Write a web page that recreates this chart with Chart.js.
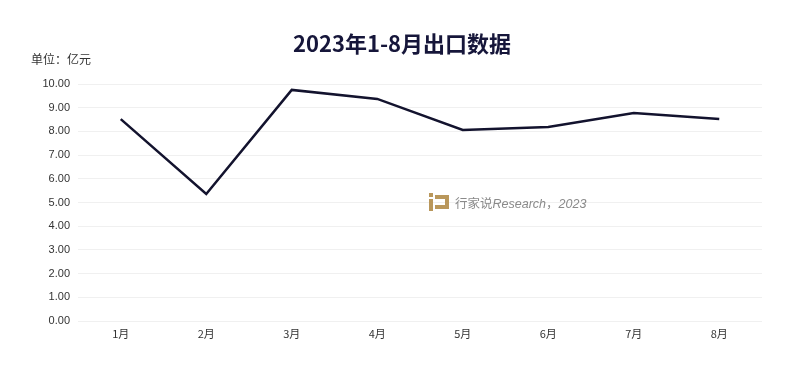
<!DOCTYPE html>
<html>
<head>
<meta charset="utf-8">
<script src="https://cdn.jsdelivr.net/npm/chart.js@4.4.0/dist/chart.umd.min.js"></script>
<style>
  html, body { margin: 0; padding: 0; background: #fff; }
  #wrap { position: relative; width: 800px; height: 370px; }
  #mark { position: absolute; left: 429px; top: 192px; height: 20px; display: flex; align-items: center;
          font-family: "Noto Sans CJK SC", "Liberation Sans", sans-serif; font-size: 12.5px; color: #8a8a8a; }
  #mark .logo { position: relative; width: 20px; height: 18px; margin-right: 6px; }
  #mark .logo i { position: absolute; background: #b9975b; }
  #mark em { font-family: "Liberation Sans", Arial, sans-serif; font-style: italic; }
</style>
</head>
<body>
<div id="wrap">
  <canvas id="c" width="800" height="370"></canvas>
  <div id="mark">
    <span class="logo">
      <i style="left:0;top:0;width:4px;height:4px"></i>
      <i style="left:0;top:6px;width:4px;height:12px"></i>
      <i style="left:6px;top:2px;width:14px;height:4px"></i>
      <i style="left:16px;top:2px;width:4px;height:14px"></i>
      <i style="left:6px;top:12px;width:14px;height:4px"></i>
    </span>
    <span>行家说<em>Research</em>，<em>2023</em></span>
  </div>
</div>
<script>
// 2023年1-8月出口数据（亿元）
var MONTHS = ['1月', '2月', '3月', '4月', '5月', '6月', '7月', '8月'];
var EXPORTS = [8.52, 5.36, 9.75, 9.37, 8.06, 8.19, 8.78, 8.52];
var Y_MIN = 0;
var Y_MAX = 10;
var Y_STEP = 1;

var TITLE = '2023年1-8月出口数据';
var UNIT = '单位：亿元';

var headerPlugin = {
  id: 'header',
  afterDraw: function (chart) {
    var ctx = chart.ctx;
    ctx.save();
    ctx.fillStyle = '#16163a';
    ctx.font = 'bold 22px "Noto Sans CJK SC", sans-serif';
    ctx.textAlign = 'center';
    ctx.textBaseline = 'middle';
    ctx.fillText(TITLE, 402, 44);
    ctx.fillStyle = '#333';
    ctx.font = '12px "Noto Sans CJK SC", sans-serif';
    ctx.textAlign = 'left';
    ctx.fillText(UNIT, 31, 59);
    ctx.restore();
  }
};

new Chart(document.getElementById('c'), {
  type: 'line',
  data: {
    labels: MONTHS,
    datasets: [{
      data: EXPORTS,
      borderColor: '#13132e',
      borderWidth: 2.5,
      pointRadius: 0,
      tension: 0,
      fill: false
    }]
  },
  options: {
    responsive: false,
    animation: false,
    layout: { padding: { top: 84, right: 38, bottom: 18, left: 0 } },
    plugins: { legend: { display: false }, tooltip: { enabled: false }, title: { display: false } },
    scales: {
      x: {
        offset: true,
        grid: { display: false },
        border: { display: false },
        ticks: { color: '#333', padding: -2, font: { family: '"Noto Sans CJK SC", sans-serif', size: 11 } },
        afterFit: function (s) { s.height = 31; }
      },
      y: {
        min: Y_MIN,
        max: Y_MAX,
        ticks: {
          stepSize: Y_STEP,
          padding: 8,
          color: '#333',
          font: { family: '"Liberation Sans", Arial, sans-serif', size: 11 },
          callback: function (v) { return Number(v).toFixed(2); }
        },
        grid: { color: '#f0f0f0', drawTicks: false },
        border: { display: false },
        afterFit: function (s) { s.width = 78; }
      }
    }
  },
  plugins: [headerPlugin]
});
</script>
</body>
</html>
